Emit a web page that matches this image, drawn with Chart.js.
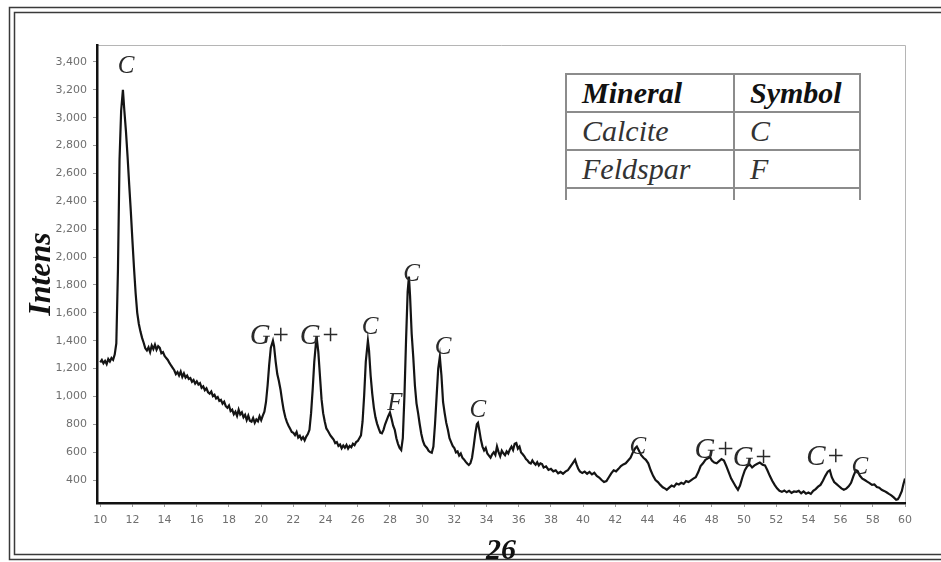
<!DOCTYPE html>
<html>
<head>
<meta charset="utf-8">
<title>XRD pattern</title>
<script src="https://cdn.jsdelivr.net/npm/chart.js@4.4.0/dist/chart.umd.min.js"></script>
<style>
    body { margin: 0; background: #fff; }
    #wrap { position: relative; width: 941px; height: 562px; overflow: hidden; }
    #xrdChart { position: absolute; left: 0; top: 0; }
    .mineral-box { position: absolute; left: 565px; top: 73px; width: 296px; height: 127px; overflow: hidden; background: #fff; }
    .mineral-box table { border-collapse: collapse; font-family: "Liberation Serif", "DejaVu Serif", serif; font-style: italic; font-size: 30px; line-height: 36px; color: #333; }
    .mineral-box td, .mineral-box th { border: 2px solid #8c8c8c; height: 36px; padding: 0 0 0 15px; text-align: left; font-weight: normal; }
    .mineral-box th { font-weight: bold; color: #111; }
    .mineral-box .c1 { width: 151px; }
    .mineral-box .c2 { width: 109px; }
</style>
</head>
<body>
<div id="wrap">
    <canvas id="xrdChart" width="941" height="562"></canvas>
    <div class="mineral-box">
        <table>
            <tr><th class="c1">Mineral</th><th class="c2">Symbol</th></tr>
            <tr><td>Calcite</td><td>C</td></tr>
            <tr><td>Feldspar</td><td>F</td></tr>
            <tr><td>&nbsp;</td><td>&nbsp;</td></tr>
        </table>
    </div>
</div>
<script>
// Scan: 2-theta angle and intensity (counts)
const twoTheta = [
    10.0, 10.1, 10.2, 10.3, 10.4, 10.5, 10.6, 10.7, 10.8, 10.9,
    11.0, 11.1, 11.2, 11.3, 11.41, 11.5, 11.6, 11.7, 11.8, 11.9,
    12.0, 12.1, 12.2, 12.3, 12.4, 12.5, 12.6, 12.7, 12.8, 12.9,
    13.0, 13.1, 13.2, 13.3, 13.4, 13.5, 13.6, 13.7, 13.8, 13.9,
    14.0, 14.1, 14.2, 14.3, 14.4, 14.5, 14.6, 14.7, 14.8, 14.9,
    15.0, 15.1, 15.2, 15.3, 15.4, 15.5, 15.6, 15.7, 15.8, 15.9,
    16.0, 16.1, 16.2, 16.3, 16.4, 16.5, 16.6, 16.7, 16.8, 16.9,
    17.0, 17.1, 17.2, 17.3, 17.4, 17.5, 17.6, 17.7, 17.8, 17.9,
    18.0, 18.1, 18.2, 18.3, 18.4, 18.5, 18.6, 18.7, 18.8, 18.9,
    19.0, 19.1, 19.2, 19.3, 19.4, 19.5, 19.6, 19.7, 19.8, 19.9,
    20.0, 20.1, 20.2, 20.3, 20.4, 20.5, 20.6, 20.73, 20.8, 20.9,
    21.0, 21.1, 21.2, 21.3, 21.4, 21.5, 21.6, 21.7, 21.8, 21.9,
    22.0, 22.1, 22.2, 22.3, 22.4, 22.5, 22.6, 22.7, 22.8, 22.9,
    23.0, 23.1, 23.2, 23.3, 23.4, 23.47, 23.55, 23.65, 23.75, 23.85,
    23.95, 24.05, 24.15, 24.3, 24.4, 24.5, 24.6, 24.7, 24.8, 24.9,
    25.0, 25.1, 25.2, 25.3, 25.4, 25.5, 25.6, 25.7, 25.8, 25.9,
    26.0, 26.1, 26.2, 26.3, 26.4, 26.5, 26.63, 26.7, 26.8, 26.9,
    27.0, 27.1, 27.2, 27.3, 27.4, 27.5, 27.6, 27.7, 27.8, 27.9,
    28.0, 28.1, 28.2, 28.3, 28.4, 28.5, 28.6, 28.7, 28.8, 28.9,
    29.0, 29.1, 29.18, 29.25, 29.35, 29.45, 29.55, 29.65, 29.75, 29.85,
    29.95, 30.05, 30.15, 30.3, 30.4, 30.5, 30.6, 30.7, 30.8, 30.9,
    31.0, 31.1, 31.2, 31.3, 31.4, 31.5, 31.6, 31.7, 31.8, 31.9,
    32.0, 32.1, 32.2, 32.3, 32.4, 32.5, 32.6, 32.7, 32.8, 32.9,
    33.0, 33.1, 33.2, 33.3, 33.4, 33.47, 33.55, 33.65, 33.75, 33.85,
    33.95, 34.05, 34.15, 34.25, 34.35, 34.45, 34.55, 34.65, 34.75, 34.85,
    34.95, 35.05, 35.15, 35.25, 35.35, 35.45, 35.55, 35.65, 35.75, 35.85,
    35.95, 36.05, 36.15, 36.25, 36.35, 36.45, 36.55, 36.65, 36.75, 36.85,
    36.95, 37.05, 37.15, 37.25, 37.35, 37.45, 37.55, 37.7, 37.85, 38.0,
    38.15, 38.3, 38.45, 38.6, 38.75, 38.9, 39.05, 39.2, 39.35, 39.5,
    39.6, 39.7, 39.8, 39.95, 40.1, 40.25, 40.4, 40.55, 40.7, 40.85,
    41.0, 41.15, 41.3, 41.45, 41.6, 41.75, 41.9, 42.05, 42.2, 42.35,
    42.5, 42.65, 42.8, 42.95, 43.1, 43.25, 43.34, 43.45, 43.6, 43.75,
    43.9, 44.05, 44.2, 44.35, 44.5, 44.65, 44.8, 44.95, 45.1, 45.2,
    45.35, 45.5, 45.65, 45.8, 45.95, 46.1, 46.25, 46.4, 46.55, 46.7,
    46.85, 47.0, 47.15, 47.3, 47.45, 47.6, 47.75, 47.88, 48.0, 48.15,
    48.3, 48.45, 48.6, 48.75, 48.9, 49.05, 49.2, 49.35, 49.5, 49.62,
    49.75, 49.9, 50.05, 50.2, 50.36, 50.5, 50.65, 50.8, 50.98, 51.15,
    51.3, 51.45, 51.6, 51.75, 51.9, 52.05, 52.2, 52.35, 52.5, 52.65,
    52.8, 52.95, 53.1, 53.25, 53.4, 53.55, 53.7, 53.85, 54.0, 54.15,
    54.3, 54.45, 54.6, 54.75, 54.9, 55.05, 55.2, 55.33, 55.45, 55.6,
    55.75, 55.9, 56.05, 56.2, 56.35, 56.5, 56.65, 56.8, 56.95, 57.05,
    57.2, 57.35, 57.5, 57.65, 57.8, 57.95, 58.1, 58.25, 58.4, 58.55,
    58.7, 58.85, 59.0, 59.15, 59.3, 59.45, 59.55, 59.65, 59.8, 59.9,
    60.0
];
const intensity = [
    1245, 1262, 1238, 1255, 1232, 1268, 1250, 1275, 1262, 1300,
    1380, 1900, 2700, 3050, 3200, 3050, 2900, 2720, 2520, 2330,
    2120, 1920, 1740, 1600, 1520, 1465, 1420, 1385, 1345, 1330,
    1352, 1318, 1365, 1340, 1372, 1335, 1360, 1348, 1310, 1318,
    1290, 1275, 1262, 1240, 1222, 1205, 1188, 1160, 1175, 1150,
    1178, 1140, 1165, 1135, 1150, 1125, 1132, 1105, 1118, 1092,
    1108, 1085, 1095, 1062, 1072, 1045, 1058, 1030, 1020, 1035,
    1002, 1012, 985, 995, 968, 975, 948, 962, 930, 918,
    935, 895, 905, 872, 890, 860, 905, 870, 885, 850,
    868, 830, 862, 825, 818, 845, 810, 835, 822, 858,
    830, 862, 890, 960, 1080, 1230, 1350, 1400, 1360, 1250,
    1160, 1110, 1050, 970, 900, 850, 815, 790, 768, 745,
    738, 722, 745, 705, 718, 692, 708, 685, 712, 730,
    760, 880, 1050, 1250, 1380, 1400, 1320, 1150, 980, 880,
    820, 770, 752, 720, 705, 690, 665, 672, 645, 655,
    628, 648, 632, 652, 625, 645, 635, 660, 650, 672,
    680, 700, 720, 820, 1010, 1250, 1400, 1330, 1150, 1020,
    920, 850, 805, 770, 740, 735, 760, 800, 830, 860,
    885, 840, 790, 760, 700, 660, 630, 615, 700, 1000,
    1400, 1750, 1860, 1720, 1450, 1280, 1080, 950, 880, 800,
    730, 680, 650, 630, 610, 600, 595, 640, 800, 1000,
    1200, 1285, 1150, 960, 880, 810, 760, 700, 672, 645,
    630, 598, 605, 575, 590, 560, 548, 532, 518, 508,
    520, 560, 640, 730, 800, 810, 760, 690, 640, 612,
    630, 590, 575, 560, 585, 600, 580, 640, 600, 570,
    610, 592, 578, 605, 590, 620, 640, 615, 660, 665,
    625, 640, 598, 585, 570, 550, 540, 525, 518, 540,
    522, 510, 528, 505, 520, 515, 490, 498, 472, 480,
    462, 470, 448, 458, 445, 460, 470, 495, 520, 545,
    510, 480, 462, 450, 460, 445, 458, 440, 452, 430,
    418, 400, 385, 392, 420, 448, 470, 462, 480, 500,
    512, 520, 540, 560, 600, 630, 640, 615, 580, 560,
    545, 520, 470, 430, 400, 385, 365, 348, 338, 330,
    345, 360, 352, 375, 368, 380, 372, 392, 385, 398,
    410, 420, 455, 500, 520, 545, 555, 565, 540, 525,
    520, 535, 550, 540, 500, 455, 410, 380, 350, 330,
    360, 420, 470, 500, 510, 490, 505, 515, 525, 510,
    505, 470, 430, 395, 365, 340, 322, 315, 325, 312,
    322, 308, 318, 315, 322, 305, 318, 302, 310, 300,
    322, 335, 352, 365, 395, 430, 460, 470, 420, 385,
    370, 355, 340, 330, 338, 355, 380, 430, 470, 465,
    430, 410, 400, 388, 378, 365, 368, 350, 345, 330,
    322, 312, 300, 290, 275, 258, 262, 280, 320, 370,
    410
];

// Tick labels
const xTickValues = [10, 12, 14, 16, 18, 20, 22, 24, 26, 28, 30, 32, 34, 36, 38, 40, 42, 44, 46, 48, 50, 52, 54, 56, 58, 60];
const yTickValues = [400, 600, 800, 1000, 1200, 1400, 1600, 1800, 2000, 2200, 2400, 2600, 2800, 3000, 3200, 3400];

// Peak annotations: symbol, angle and height where the symbol sits
const peakSymbols = ['C', 'G+', 'G+', 'C', 'F', 'C', 'C', 'C', 'C', 'G+', 'G+', 'C+', 'C'];
const peakAngles  = [11.6, 20.55, 23.65, 26.76, 28.31, 29.35, 31.3, 33.46, 43.4, 48.18, 50.55, 55.08, 57.19];
const peakHeights = [3370, 1430, 1430, 1495, 953, 1875, 1350, 903, 637, 615, 558, 565, 493];

// Frame, box and the peak symbols
const decorPlugin = {
    id: 'decor',
    beforeDraw(chart) {
        const ctx = chart.ctx;
        const area = chart.chartArea;
        ctx.save();
        ctx.fillStyle = '#fff';
        ctx.fillRect(0, 0, chart.width, chart.height);

        // double frame round the figure
        ctx.strokeStyle = '#3a3a3a';
        ctx.lineWidth = 1.5;
        [[9.5, 7.5], [14.5, 12.5]].forEach(([x0, y0], i) => {
            const yb = i === 0 ? 559.5 : 554.5;
            ctx.beginPath();
            ctx.moveTo(chart.width, y0);
            ctx.lineTo(x0, y0);
            ctx.lineTo(x0, yb);
            ctx.lineTo(chart.width, yb);
            ctx.stroke();
        });

        // light box on the top and right of the plot
        ctx.strokeStyle = '#b5b5b5';
        ctx.lineWidth = 1;
        ctx.beginPath();
        ctx.moveTo(area.left, area.top + 0.5);
        ctx.lineTo(area.right + 0.5, area.top + 0.5);
        ctx.lineTo(area.right + 0.5, area.bottom);
        ctx.stroke();
        ctx.restore();
    },
    afterDatasetsDraw(chart) {
        const ctx = chart.ctx;
        const x = chart.scales.x;
        const y = chart.scales.y;
        ctx.save();
        ctx.fillStyle = '#2a2a2a';
        ctx.textAlign = 'center';
        ctx.textBaseline = 'middle';
        peakSymbols.forEach((sym, i) => {
            ctx.font = sym.length > 1 ? 'italic 29px "Liberation Serif"' : 'italic 25px "Liberation Serif"';
            ctx.fillText(sym, x.getPixelForValue(peakAngles[i]), y.getPixelForValue(peakHeights[i]));
        });
        ctx.restore();
    }
};

function initXrdChart() {
    const ctx = document.getElementById('xrdChart').getContext('2d');

    const points = twoTheta.map((t, i) => ({ x: t, y: intensity[i] }));

    new Chart(ctx, {
        type: 'line',
        data: {
            datasets: [{
                data: points,
                borderColor: '#141414',
                borderWidth: 2.2,
                pointRadius: 0,
                tension: 0,
                fill: false
            }]
        },
        options: {
            responsive: false,
            animation: false,
            layout: { padding: { left: 0, right: 36, top: 45, bottom: 0 } },
            plugins: {
                legend: { display: false },
                tooltip: { enabled: false }
            },
            scales: {
                x: {
                    type: 'linear',
                    min: 9.8,
                    max: 60,
                    afterBuildTicks: axis => { axis.ticks = xTickValues.map(v => ({ value: v })); },
                    afterFit: axis => { axis.height = 59; },
                    grid: { drawOnChartArea: false, tickLength: 4, color: '#9a9a9a' },
                    border: { color: '#111', width: 2.5 },
                    ticks: {
                        autoSkip: false,
                        maxRotation: 0,
                        padding: 7,
                        color: '#6f6f6f',
                        font: { family: 'DejaVu Sans', size: 11 }
                    },
                    title: {
                        display: true,
                        text: '26',
                        color: '#111',
                        font: { family: 'Liberation Serif', size: 30, style: 'italic', weight: 'bold', lineHeight: 1 },
                        padding: { top: 0, bottom: -4 }
                    }
                },
                y: {
                    min: 235,
                    max: 3522,
                    afterBuildTicks: axis => { axis.ticks = yTickValues.map(v => ({ value: v })); },
                    afterFit: axis => { axis.width = 97; },
                    grid: { drawOnChartArea: false, tickLength: 4, color: '#9a9a9a' },
                    border: { color: '#111', width: 2.5 },
                    ticks: {
                        padding: 6,
                        color: '#6f6f6f',
                        font: { family: 'DejaVu Sans', size: 11 },
                        callback: value => value.toLocaleString('en-US')
                    },
                    title: {
                        display: true,
                        text: 'Intens',
                        color: '#111',
                        font: { family: 'Liberation Serif', size: 32, style: 'italic', weight: 'bold', lineHeight: 1.2 },
                        padding: { top: 23, bottom: 0 }
                    }
                }
            }
        },
        plugins: [decorPlugin]
    });
}

document.addEventListener('DOMContentLoaded', initXrdChart);
</script>
</body>
</html>
